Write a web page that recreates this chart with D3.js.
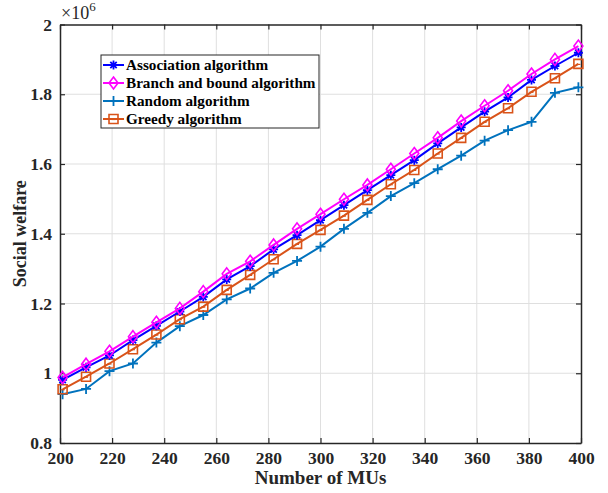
<!DOCTYPE html>
<html><head><meta charset="utf-8">
<script src="https://cdn.jsdelivr.net/npm/d3@7"></script>
<style>
body{margin:0;background:#fff;}
text{font-family:"Liberation Serif","Times New Roman",serif;font-weight:bold;}
</style></head>
<body><svg id="chart" width="608" height="493"></svg>
<script>
const xValues = [201,210,219,228,237,246,255,264,273,282,291,300,309,318,327,336,345,354,363,372,381,390,399];
const association = [0.981,1.017,1.051,1.095,1.136,1.177,1.219,1.269,1.307,1.355,1.396,1.439,1.482,1.525,1.568,1.611,1.659,1.705,1.750,1.791,1.841,1.881,1.919];
const branchBound = [0.988,1.026,1.063,1.105,1.146,1.186,1.234,1.285,1.321,1.368,1.414,1.456,1.499,1.540,1.585,1.630,1.675,1.723,1.767,1.810,1.858,1.900,1.938];
const randomAlg   = [0.940,0.955,1.006,1.028,1.088,1.135,1.167,1.212,1.243,1.288,1.322,1.363,1.414,1.460,1.508,1.545,1.585,1.624,1.667,1.697,1.721,1.804,1.820];
const greedy      = [0.954,0.990,1.028,1.069,1.111,1.155,1.191,1.239,1.282,1.327,1.371,1.411,1.452,1.497,1.542,1.583,1.630,1.675,1.721,1.760,1.807,1.846,1.887];
const xTicks = [200,220,240,260,280,300,320,340,360,380,400];
const yTicks = [0.8,1,1.2,1.4,1.6,1.8,2];
const seriesNames = ["Association algorithm","Branch and bound algorithm","Random algorithm","Greedy algorithm"];

const series = [
  {name:seriesNames[0], vals:association, color:"#0000FF", marker:"star"},
  {name:seriesNames[1], vals:branchBound, color:"#FF00FF", marker:"diamond"},
  {name:seriesNames[2], vals:randomAlg, color:"#0072BD", marker:"plus"},
  {name:seriesNames[3], vals:greedy, color:"#D95319", marker:"square"}
];

const L=60,R=581,T=24.5,B=443;
const svg=d3.select("#chart");
const x=d3.scaleLinear().domain([200,400]).range([L,R]);
const y=d3.scaleLinear().domain([0.8,2]).range([B,T]);
const axisColor="#262626";

// grid
const g=svg.append("g");
g.selectAll(".gx").data(xTicks.slice(1,-1)).join("line")
 .attr("x1",d=>x(d)).attr("x2",d=>x(d)).attr("y1",T).attr("y2",B)
 .attr("stroke","#dfdfdf").attr("stroke-width",1);
g.selectAll(".gy").data(yTicks.slice(1,-1)).join("line")
 .attr("y1",d=>y(d)).attr("y2",d=>y(d)).attr("x1",L).attr("x2",R)
 .attr("stroke","#dfdfdf").attr("stroke-width",1);

// axes with inward ticks
const fmtY=d=>d3.format("~g")(d);
const xb=svg.append("g").attr("transform",`translate(0,${B})`)
 .call(d3.axisBottom(x).tickValues(xTicks).tickSize(-5).tickPadding(9).tickSizeOuter(0));
const xt=svg.append("g").attr("transform",`translate(0,${T})`)
 .call(d3.axisTop(x).tickValues(xTicks).tickSize(-5).tickFormat("").tickSizeOuter(0));
const yl=svg.append("g").attr("transform",`translate(${L},0)`)
 .call(d3.axisLeft(y).tickValues(yTicks).tickSize(-5).tickPadding(8).tickFormat(fmtY).tickSizeOuter(0));
const yr=svg.append("g").attr("transform",`translate(${R},0)`)
 .call(d3.axisRight(y).tickValues(yTicks).tickSize(-5).tickFormat("").tickSizeOuter(0));
[xb,xt,yl,yr].forEach(a=>{
  a.select(".domain").attr("stroke",axisColor).attr("stroke-width",1.5);
  a.selectAll(".tick line").attr("stroke",axisColor).attr("stroke-width",1.2);
  a.selectAll(".tick text").attr("fill","#262626").style("font-size","17.5px")
   .style("font-family","'Liberation Serif',serif").style("font-weight","bold");
});

// markers
function drawMarker(sel,type,color){
  const s=sel.append("path").attr("fill","none").attr("stroke",color).attr("stroke-width",1.6);
  if(type==="diamond") s.attr("d","M0,-6L4.5,0L0,6L-4.5,0Z");
  else if(type==="square"){ s.attr("d","M-4.5,-4.5H4.5V4.5H-4.5Z");
    sel.append("path").attr("d","M-2,0.5H2").attr("stroke",color).attr("stroke-width",1.2);}
  else if(type==="plus") s.attr("d","M-5,0H5M0,-5V5").attr("stroke-width",1.8);
  else if(type==="star") s.attr("d","M-4.5,0H4.5M0,-4.5V4.5M-3.2,-3.2L3.2,3.2M-3.2,3.2L3.2,-3.2").attr("stroke-width",1.8);
}

const line=d3.line().x((d,i)=>x(xValues[i])).y(d=>y(d));
const order=[2,3,0,1];
order.forEach(k=>{
  const s=series[k];
  svg.append("path").datum(s.vals).attr("d",line).attr("fill","none")
    .attr("stroke",s.color).attr("stroke-width",2);
  svg.append("g").selectAll("g").data(s.vals).join("g")
    .attr("transform",(d,i)=>`translate(${x(xValues[i])},${y(d)})`)
    .each(function(){drawMarker(d3.select(this),s.marker,s.color);});
});

// legend
const lg=svg.append("g");
lg.append("rect").attr("x",101).attr("y",55).attr("width",218).attr("height",73)
  .attr("fill","#fff").attr("stroke","#262626").attr("stroke-width",1);
series.forEach((s,i)=>{
  const yy=65+i*18;
  lg.append("line").attr("x1",103).attr("x2",124).attr("y1",yy).attr("y2",yy)
    .attr("stroke",s.color).attr("stroke-width",2);
  const m=lg.append("g").attr("transform",`translate(113.5,${yy})`);
  drawMarker(m,s.marker,s.color);
  lg.append("text").attr("x",126).attr("y",yy+5).text(s.name)
    .style("font-size","15.2px").attr("fill","#000");
});

// multiplier
const mt=svg.append("text").attr("x",61).attr("y",19).attr("fill","#262626")
  .attr("font-size",18).style("font-size","18px").style("font-weight","normal");
mt.append("tspan").text("×10");
mt.append("tspan").attr("dy",-8).style("font-size","13px").text("6");

// axis labels
svg.append("text").attr("x",(L+R)/2).attr("y",484).attr("text-anchor","middle")
  .style("font-size","19px").attr("fill","#262626").text("Number of MUs");
svg.append("text").attr("transform",`translate(26,${(T+B)/2}) rotate(-90)`)
  .attr("text-anchor","middle").style("font-size","18px").attr("fill","#262626").text("Social welfare");
</script></body></html>
